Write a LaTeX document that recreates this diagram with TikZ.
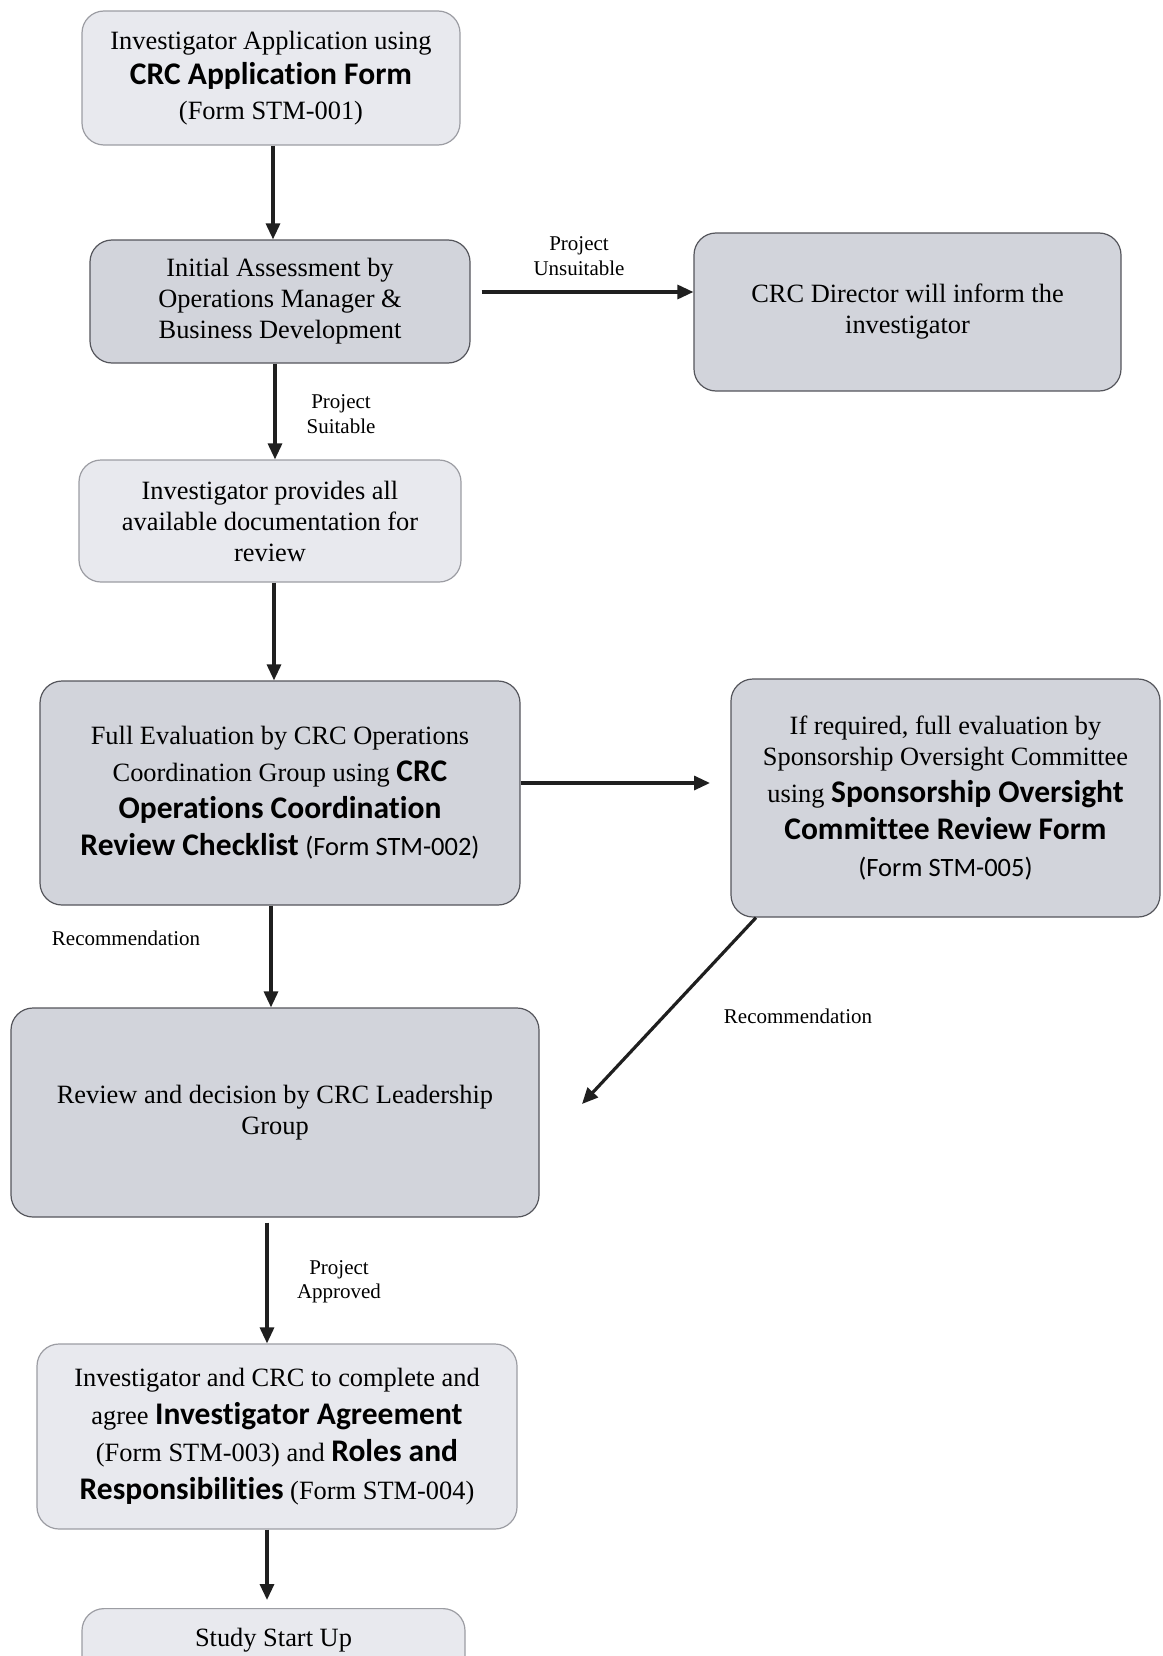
\documentclass[tikz,border=0pt]{standalone}
\usepackage{fontspec}
\setmainfont{Liberation Serif}
\newfontfamily\carl{Carlito}[Ligatures=NoCommon]
\usetikzlibrary{arrows.meta,calc}
\definecolor{darkfill}{HTML}{D2D4DB}
\definecolor{lightfill}{HTML}{E8E9EE}
\definecolor{darkline}{HTML}{55565C}
\definecolor{lightline}{HTML}{9C9DA3}
\newcommand{\bsans}[1]{{\carl\bfseries\fontsize{31.5}{31.5}\selectfont #1}}
\newcommand{\rsans}[1]{{\carl\fontsize{26.5}{26.5}\selectfont #1}}
\begin{document}
\begin{tikzpicture}[x=1pt,y=-1pt,
 box/.style={rectangle, rounded corners=22pt, align=center, inner sep=0pt, font=\fontsize{26.4}{31}\selectfont},
 darkbox/.style={box, fill=darkfill, draw=darkline, line width=1.2pt},
 lightbox/.style={box, fill=lightfill, draw=lightline, line width=1.2pt},
 arr/.style={-{Triangle[length=16pt,width=14pt]}, line width=3.2pt, draw=black!88},
 lbl/.style={font=\fontsize{21}{24.5}\selectfont, align=center, inner sep=0pt}]
\useasboundingbox (0,0) rectangle (1162,1656);
\fill[white] (0,0) rectangle (1162,1656);

\node[lightbox, minimum width=378pt, minimum height=134pt, font=\fontsize{26.4}{35}\selectfont] (A) at (271,78)
 {Investigator Application using\\ \bsans{CRC Application Form}\\ (Form STM-001)};
\node[darkbox, minimum width=380pt, minimum height=123pt] (B) at (280,301.5)
 {Initial Assessment by\\ Operations Manager \&\\ Business Development};
\node[darkbox, minimum width=427pt, minimum height=158pt] (C) at (907.5,312)
 {CRC Director will inform the\\ investigator};
\node[lightbox, minimum width=382pt, minimum height=122pt] (D) at (270,521)
 {Investigator provides all\\ available documentation for\\ review};
\node[darkbox, minimum width=480pt, minimum height=224pt, font=\fontsize{26.4}{37}\selectfont] (E) at (280,793)
 {Full Evaluation by CRC Operations\\ Coordination Group using \bsans{CRC}\\ \bsans{Operations Coordination}\\ \bsans{Review Checklist} \rsans{(Form STM-002)}};
\node[darkbox, minimum width=429pt, minimum height=238pt, font=\fontsize{26.4}{37}\selectfont] (F) at (945.5,798)
 {If required, full evaluation by\\[-6pt] Sponsorship Oversight Committee\\ using \bsans{Sponsorship Oversight}\\ \bsans{Committee Review Form}\\ \rsans{(Form STM-005)}};
\node[darkbox, minimum width=528pt, minimum height=209pt] (G) at (275,1112.5)
 {Review and decision by CRC Leadership\\ Group};
\node[lightbox, minimum width=480pt, minimum height=185pt, font=\fontsize{26.4}{37.5}\selectfont] (H) at (277,1436.5)
 {Investigator and CRC to complete and\\ agree \bsans{Investigator Agreement}\\ (Form STM-003) and \bsans{Roles and}\\ \bsans{Responsibilities} (Form STM-004)};
\node[rectangle, rounded corners=22pt, fill=lightfill, draw=lightline, line width=1.2pt, anchor=north,
  minimum width=383pt, inner xsep=0pt, inner ysep=18pt, text height=20pt, text depth=50pt,
  font=\fontsize{26.4}{31}\selectfont] (I) at (273.5,1608) {Study Start Up};

% connectors
\draw[arr] (A.south -| 273,0) -- (B.north -| 273,0);
\coordinate (bc) at ($(B.east)+(11,-9.5)$);
\draw[arr] (bc) -- (bc -| C.west);
\draw[arr] (B.south -| 275,0) -- (D.north -| 275,0);
\draw[arr] (D.south -| 274,0) -- (E.north -| 274,0);
\coordinate (ef) at (E.east |- 0,783);
\coordinate (efend) at (710,783);
\draw[arr] (ef) -- (efend);
\draw[arr] (E.south -| 271,0) -- (G.north -| 271,0);
\coordinate (fg) at (582,1104);
\draw[arr] (F.south -| 756,0) -- (fg);
\draw[arr] ($(G.south -| 267,0)+(0,5)$) -- (H.north -| 267,0);
\coordinate (hi) at (267,1600);
\draw[arr] (H.south -| 267,0) -- (hi);

% labels
\node[lbl] (l1) at (579,256) {Project\\ Unsuitable};
\node[lbl] (l2) at (341,414) {Project\\ Suitable};
\node[lbl] (l3) at (126,938) {Recommendation};
\node[lbl] (l4) at (798,1016) {Recommendation};
\node[lbl] (l5) at (339,1282) {Project\\ Approved};
\end{tikzpicture}
\end{document}
